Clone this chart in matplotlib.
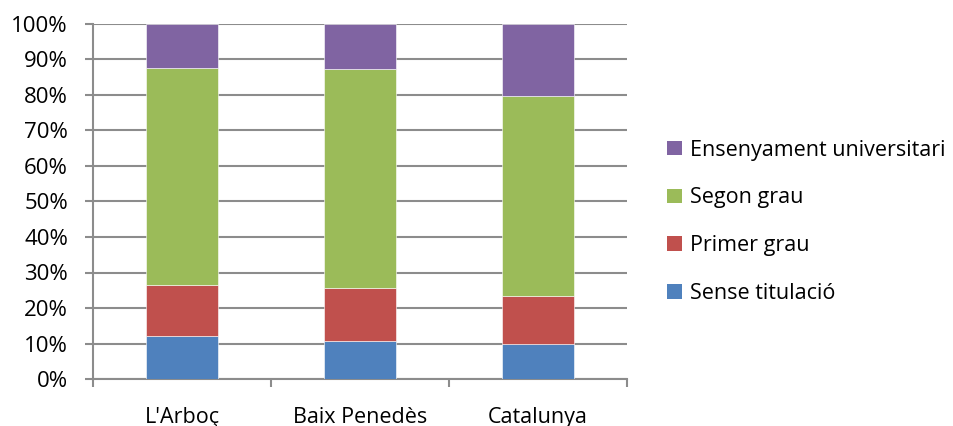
"""Stacked percentage bars: level of education by territory."""

import matplotlib
matplotlib.use('Agg')
import matplotlib.pyplot as plt
from matplotlib.patches import Patch
import numpy as np

# Data (percent of population)
territories = ["L'Arboç", 'Baix Penedès', 'Catalunya']
sense_titulacio = [12.0, 10.6, 9.8]
primer_grau = [14.4, 15.1, 13.6]
segon_grau = [61.3, 61.7, 56.2]
universitari = [12.3, 12.6, 20.4]

series_names = ['Sense titulació', 'Primer grau', 'Segon grau',
                'Ensenyament universitari']
series_colors = ['#4F81BD', '#C0504D', '#9BBB59', '#8064A2']

plt.rcParams['font.family'] = ['Open Sans', 'DejaVu Sans']

fig = plt.figure(figsize=(9.54, 4.26), dpi=100)
ax = fig.add_axes([93 / 954, 47 / 426, 534 / 954, 355 / 426])

x = np.arange(len(territories))
bottom = np.zeros(len(territories))
for values, color in zip([sense_titulacio, primer_grau, segon_grau,
                          universitari], series_colors):
    ax.bar(x, values, 0.4, bottom=bottom, color=color,
           edgecolor='white', linewidth=0.4, zorder=3)
    bottom += np.array(values)

# Axes styling
grid_color = '#8c8c8c'
ax.set_ylim(0, 100)
ax.set_xlim(-0.5, len(territories) - 0.5)
ax.set_yticks(np.arange(0, 101, 10))
ax.set_yticklabels(['{}%'.format(v) for v in range(0, 101, 10)])
ax.yaxis.grid(True, color=grid_color, linewidth=1.5, zorder=0)
ax.set_axisbelow(True)

ax.set_xticks(x)
ax.set_xticklabels(territories)
ax.set_xticks(np.arange(-0.5, len(territories)), minor=True)
ax.tick_params(axis='x', which='major', length=0, pad=20, labelsize=15.5)
ax.tick_params(axis='x', which='minor', length=6, width=1.5,
               color=grid_color)
ax.tick_params(axis='y', length=6, width=1.5, color=grid_color,
               labelsize=16, pad=12)

for side in ['top', 'right']:
    ax.spines[side].set_visible(False)
for side in ['left', 'bottom']:
    ax.spines[side].set_color(grid_color)
    ax.spines[side].set_linewidth(1.5)

# Legend, top series first
handles = [Patch(facecolor=c, edgecolor='none') for c in series_colors]
fig.legend(handles[::-1], series_names[::-1],
           loc='center left', bbox_to_anchor=(648 / 954, 0.479),
           frameon=False, fontsize=15.5, handlelength=0.68,
           handleheight=0.68, handletextpad=0.35, labelspacing=1.25)

fig.savefig('out.png', dpi=100)
